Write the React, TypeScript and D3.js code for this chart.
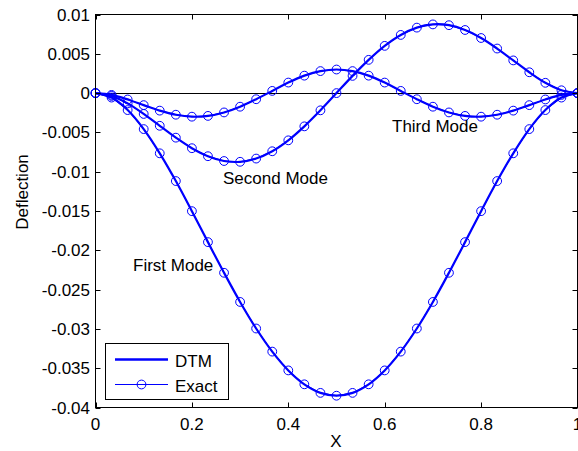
import React from 'react';
import * as d3 from 'd3';

const W = 578;
const H = 451;

const xValues = [0, 0.0333, 0.0667, 0.1, 0.1333, 0.1667, 0.2, 0.2333, 0.2667, 0.3, 0.3333, 0.3667, 0.4, 0.4333, 0.4667, 0.5,
  0.5333, 0.5667, 0.6, 0.6333, 0.6667, 0.7, 0.7333, 0.7667, 0.8, 0.8333, 0.8667, 0.9, 0.9333, 0.9667, 1];

const firstMode = [0, -0.00057, -0.00216, -0.00458, -0.00766, -0.01119, -0.01502, -0.01896, -0.02286, -0.02657, -0.02995,
  -0.03289, -0.03528, -0.03705, -0.03814, -0.0385, -0.03814, -0.03705, -0.03528, -0.03289, -0.02995, -0.02657, -0.02286,
  -0.01896, -0.01502, -0.01119, -0.00766, -0.00458, -0.00216, -0.00057, 0];

const secondMode = [0, -0.00036, -0.00131, -0.00265, -0.00416, -0.00567, -0.00701, -0.00803, -0.00864, -0.00874, -0.00833,
  -0.0074, -0.00601, -0.00423, -0.00219, 0, 0.00219, 0.00423, 0.00601, 0.0074, 0.00833, 0.00874, 0.00864, 0.00803, 0.00701,
  0.00567, 0.00416, 0.00265, 0.00131, 0.00036, 0];

const thirdMode = [0, -0.00023, -0.00081, -0.00153, -0.00223, -0.00275, -0.003, -0.0029, -0.00246, -0.00173, -0.00078,
  0.00028, 0.00134, 0.00222, 0.0028, 0.003, 0.0028, 0.00222, 0.00134, 0.00028, -0.00078, -0.00173, -0.00246, -0.0029, -0.003,
  -0.00275, -0.00223, -0.00153, -0.00081, -0.00023, 0];

const modes = [firstMode, secondMode, thirdMode];

const xTicks = [0, 0.2, 0.4, 0.6, 0.8, 1];
const xTickLabels = ['0', '0.2', '0.4', '0.6', '0.8', '1'];
const yTicks = [0.01, 0.005, 0, -0.005, -0.01, -0.015, -0.02, -0.025, -0.03, -0.035, -0.04];
const yTickLabels = ['0.01', '0.005', '0', '-0.005', '-0.01', '-0.015', '-0.02', '-0.025', '-0.03', '-0.035', '-0.04'];

const legendLabels = ['DTM', 'Exact'];
const modeLabels = ['First Mode', 'Second Mode', 'Third Mode'];

const BLUE = '#0000ff';
const FONT = '"Liberation Sans", Arial, sans-serif';

export default function App() {
  const x = d3.scaleLinear().domain([0, 1]).range([95.5, 577.5]);
  const y = d3.scaleLinear().domain([-0.04, 0.01]).range([407.5, 14.5]);

  const pts = (vals: number[]) => vals.map((v, i) => [x(xValues[i]), y(v)] as [number, number]);
  const smooth = d3.line().curve(d3.curveCatmullRom.alpha(0.5));
  const straight = d3.line();

  const left = x(0), right = x(1), top = y(0.01), bottom = y(-0.04);
  const tickLen = 5;
  const fs = 17;

  return (
    <svg width={W} height={H} style={{ position: 'absolute', left: 0, top: 0, background: '#fff' }}
      fontFamily={FONT}>
      <rect x={0} y={0} width={W} height={H} fill="#fff" />
      {/* zero line */}
      <line x1={left} x2={right} y1={Math.round(y(0)) + 0.5} y2={Math.round(y(0)) + 0.5} stroke="#000" strokeWidth={1} />
      {/* curves */}
      {modes.map((m, k) => (
        <g key={k}>
          <path d={smooth(pts(m)) || ''} fill="none" stroke={BLUE} strokeWidth={2.2} />
          <path d={straight(pts(m)) || ''} fill="none" stroke={BLUE} strokeWidth={1} />
          {pts(m).map((p, i) => (
            <circle key={i} cx={p[0]} cy={p[1]} r={4.4} fill="none" stroke={BLUE} strokeWidth={1} />
          ))}
        </g>
      ))}
      {/* frame */}
      <rect x={left} y={top} width={right - left} height={bottom - top} fill="none" stroke="#000" strokeWidth={1} />
      {/* x ticks */}
      {xTicks.map((t, i) => (
        <g key={'x' + i}>
          <line x1={Math.round(x(t)) + 0.5} x2={Math.round(x(t)) + 0.5} y1={bottom} y2={bottom - tickLen} stroke="#000" />
          <line x1={Math.round(x(t)) + 0.5} x2={Math.round(x(t)) + 0.5} y1={top} y2={top + tickLen} stroke="#000" />
          <text x={x(t)} y={430} textAnchor="middle" fontSize={fs} fill="#000">{xTickLabels[i]}</text>
        </g>
      ))}
      {/* y ticks */}
      {yTicks.map((t, i) => (
        <g key={'y' + i}>
          <line x1={left} x2={left + tickLen} y1={Math.round(y(t)) + 0.5} y2={Math.round(y(t)) + 0.5} stroke="#000" />
          <line x1={right} x2={right - tickLen} y1={Math.round(y(t)) + 0.5} y2={Math.round(y(t)) + 0.5} stroke="#000" />
          <text x={90} y={y(t) + 6} textAnchor="end" fontSize={fs} fill="#000">{yTickLabels[i]}</text>
        </g>
      ))}
      {/* axis labels */}
      <text x={336} y={447} textAnchor="middle" fontSize={fs} fill="#000">X</text>
      <text transform={`translate(28,192) rotate(-90)`} textAnchor="middle" fontSize={fs} fill="#000">Deflection</text>
      {/* mode annotations */}
      <text x={133} y={271} fontSize={fs} fill="#000">{modeLabels[0]}</text>
      <text x={223} y={184} fontSize={fs} fill="#000">{modeLabels[1]}</text>
      <text x={392} y={132} fontSize={fs} fill="#000">{modeLabels[2]}</text>
      {/* legend */}
      <g>
        <rect x={105.5} y={343.5} width={123} height={56} fill="#fff" stroke="#000" strokeWidth={1} />
        <line x1={115} x2={168} y1={359.5} y2={359.5} stroke={BLUE} strokeWidth={2.5} />
        <text x={175} y={367} fontSize={fs} fill="#000">{legendLabels[0]}</text>
        <line x1={115} x2={168} y1={384.5} y2={384.5} stroke={BLUE} strokeWidth={1} />
        <circle cx={141.5} cy={384.5} r={4.4} fill="none" stroke={BLUE} strokeWidth={1} />
        <text x={175} y={392} fontSize={fs} fill="#000">{legendLabels[1]}</text>
      </g>
    </svg>
  );
}
